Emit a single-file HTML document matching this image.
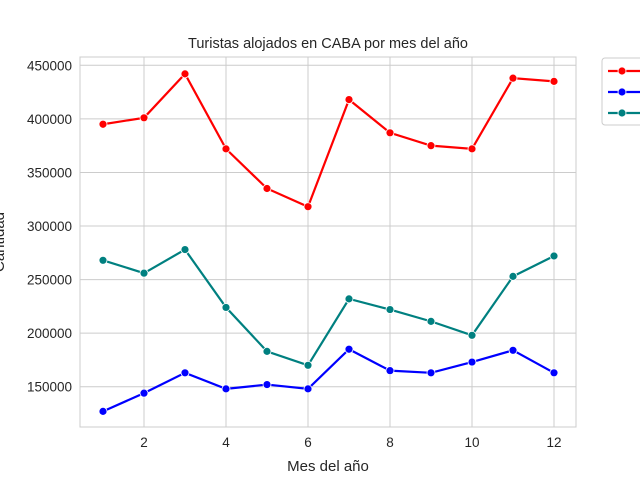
<!DOCTYPE html>
<html><head><meta charset="utf-8"><style>
body{margin:0;background:#fff}
svg text{font-family:"Liberation Sans","DejaVu Sans",sans-serif;fill:#262626}
</style></head><body>
<svg id="chart" width="640" height="480">
<rect x="80" y="57" width="496" height="370" fill="#fff" stroke="#ccc" stroke-width="1"/>
<g id="grid"></g><g id="ticks"></g><g id="series"></g>
<text x="328" y="48" text-anchor="middle" font-size="14.5">Turistas alojados en CABA por mes del año</text>
<text x="328" y="471" text-anchor="middle" font-size="15">Mes del año</text>
<text transform="translate(4,242) rotate(-90)" text-anchor="middle" font-size="15">Cantidad</text>
<g id="legend">
<rect x="602" y="58" width="50" height="67" rx="3" fill="#fff" stroke="#ccc"/>
</g>
</svg>
<script>
const months=[1,2,3,4,5,6,7,8,9,10,11,12];
const seriesRed=[395000,401000,442000,372000,335000,318000,418000,387000,375000,372000,438000,435000];
const seriesBlue=[127000,144000,163000,148000,152000,148000,185000,165000,163000,173000,184000,163000];
const seriesTeal=[268000,256000,278000,224000,183000,170000,232000,222000,211000,198000,253000,272000];
const xTicks=[2,4,6,8,10,12];
const yTicks=[150000,200000,250000,300000,350000,400000,450000];
const NS="http://www.w3.org/2000/svg";
const xs=v=>103+(v-1)*41;
const ys=v=>65.3+(450000-v)*0.0010714;
function mk(tag,attrs,parent){const e=document.createElementNS(NS,tag);for(const k in attrs)e.setAttribute(k,attrs[k]);document.getElementById(parent).appendChild(e);return e;}
xTicks.forEach(t=>{
 const l=mk('line',{x1:xs(t),x2:xs(t),y1:57,y2:427,stroke:'#ccc'},'grid');
 
 
 const tx=mk('text',{x:xs(t),y:447,'text-anchor':'middle','font-size':'13.5'},'ticks');
 tx.textContent=t;
 
 
});
yTicks.forEach(t=>{
 const l=mk('line',{x1:80,x2:576,y1:ys(t),y2:ys(t),stroke:'#ccc'},'grid');
 
 
 const tx=mk('text',{x:72,y:ys(t)+5,'text-anchor':'end','font-size':'13.5'},'ticks');
 tx.textContent=t;
 
 
});
function draw(vals,color,name){
 const p=mk('polyline',{points:vals.map((v,i)=>xs(months[i])+','+ys(v)).join(' '),fill:'none',stroke:color,'stroke-width':2.2},'series');
 
 
 vals.forEach((v,i)=>{
  const c=mk('circle',{cx:xs(months[i]),cy:ys(v),r:4,fill:color,stroke:'#fff','stroke-width':0.8},'series');
  
  
 });
}
draw(seriesRed,'#ff0000','red-series');
draw(seriesBlue,'#0000ff','blue-series');
draw(seriesTeal,'#008080','teal-series');
[['#ff0000',71],['#0000ff',92],['#008080',113]].forEach(([c,y])=>{
 const l=mk('line',{x1:608,x2:640,y1:y,y2:y,stroke:c,'stroke-width':2.2},'legend');
 
 
 mk('circle',{cx:622,cy:y,r:4,fill:c,stroke:'#fff','stroke-width':0.8},'legend');
});
</script>
</body></html>
